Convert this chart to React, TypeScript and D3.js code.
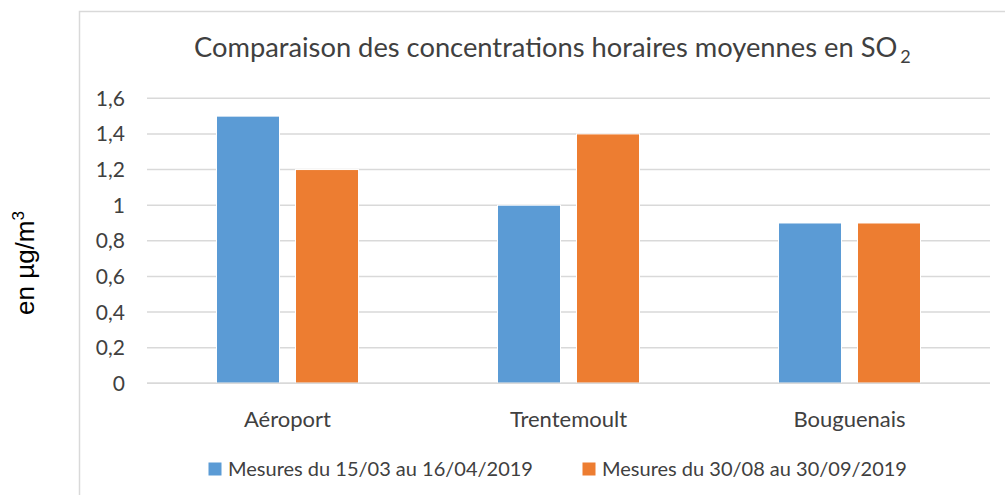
import React from "react";
import * as d3 from "d3";

const categories = ["Aéroport", "Trentemoult", "Bouguenais"];
const seriesNames = ["Mesures du 15/03 au 16/04/2019", "Mesures du 30/08 au 30/09/2019"];
const seriesA = [1.5, 1.0, 0.9];
const seriesB = [1.2, 1.4, 0.9];
const yTicks = [0, 0.2, 0.4, 0.6, 0.8, 1, 1.2, 1.4, 1.6];
const colors = ["#5b9bd5", "#ed7d31"];

const W = 1005, H = 495;
const plotL = 147, plotR = 990, plotT = 98.3, plotB = 383.3;
const FONT = "Lato, 'Open Sans', sans-serif";

export default function App() {
  const y = d3.scaleLinear().domain([0, 1.6]).range([plotB, plotT]);
  const x0 = d3.scaleBand().domain(categories).range([plotL, plotR]).paddingInner(0).paddingOuter(0);
  const groupW = 142;
  const x1 = d3.scaleBand().domain(["a", "b"]).range([0, groupW]).paddingInner(16 / 79).paddingOuter(0);
  const fmt = (v: number) => String(v).replace(".", ",");
  const series = [seriesA, seriesB];
  return (
    <svg width={W} height={H} style={{ position: "absolute", left: 0, top: 0, background: "#fff" }}>
      <rect x={79.5} y={11.5} width={W} height={H} fill="#fff" stroke="#d9d9d9" strokeWidth={1.5} />
      <text x={194} y={57} fontFamily={FONT} fontSize={27.3} fill="#404040">
        Comparaison des concentrations horaires moyennes en SO<tspan fontSize={18} dx={3} dy={6}>2</tspan>
      </text>
      {yTicks.map((t) => (
        <g key={t}>
          <line x1={plotL} x2={plotR} y1={y(t)} y2={y(t)} stroke="#d9d9d9" strokeWidth={1.5} />
          <text x={125} y={y(t) + 7.5} textAnchor="end" fontFamily={FONT} fontSize={21} fill="#404040">
            {fmt(t)}
          </text>
        </g>
      ))}
      {categories.map((c, i) => {
        const gx = x0(c)! + (x0.bandwidth() - groupW) / 2;
        return (
          <g key={c}>
            {series.map((s, j) => (
              <rect key={j} x={gx + x1(j === 0 ? "a" : "b")!} y={y(s[i])} width={x1.bandwidth()}
                height={plotB - y(s[i])} fill={colors[j]} stroke="#fff" strokeWidth={1} />
            ))}
            <text x={x0(c)! + x0.bandwidth() / 2} y={426.5} textAnchor="middle" fontFamily={FONT} fontSize={22} fill="#404040">
              {c}
            </text>
          </g>
        );
      })}
      <line x1={plotL} x2={plotR} y1={plotB} y2={plotB} stroke="#d9d9d9" strokeWidth={1.5} />
      {seriesNames.map((n, j) => {
        const lx = j === 0 ? 208.5 : 582.5;
        return (
          <g key={n}>
            <rect x={lx} y={462.5} width={13} height={13} fill={colors[j]} />
            <text x={lx + 19.5} y={476} fontFamily={FONT} fontSize={20} fill="#404040">{n}</text>
          </g>
        );
      })}
      <text transform={`translate(34,263) rotate(-90)`} textAnchor="middle" fontFamily="'Liberation Sans', Arial, sans-serif" fontSize={26} fill="#000">
        en µg/m<tspan fontSize={17} dy={-10}>3</tspan>
      </text>
    </svg>
  );
}
